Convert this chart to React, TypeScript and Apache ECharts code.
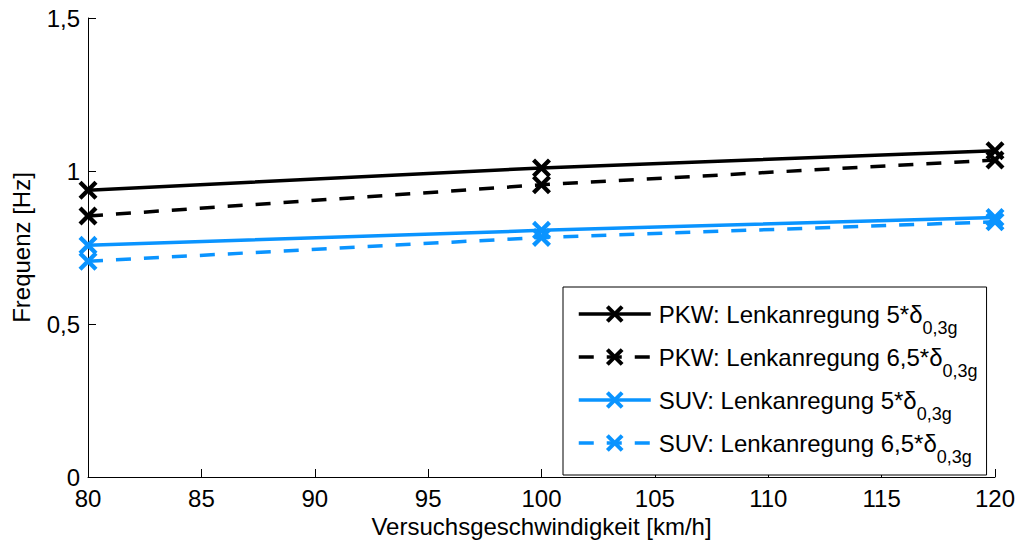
import React, { useEffect, useRef } from "react";
import * as echarts from "echarts";

// Test speeds [km/h]
const speeds = [80, 100, 120];

// Natural frequency [Hz] per vehicle and steering input amplitude
const pkw5 = [0.937, 1.01, 1.066];
const pkw65 = [0.853, 0.955, 1.036];
const suv5 = [0.757, 0.806, 0.848];
const suv65 = [0.705, 0.783, 0.834];

const seriesNames = [
  "PKW: Lenkanregung 5*δ",
  "PKW: Lenkanregung 6,5*δ",
  "SUV: Lenkanregung 5*δ",
  "SUV: Lenkanregung 6,5*δ",
];

const xTicks = { min: 80, max: 120, interval: 5 };
const yTicks = { min: 0, max: 1.5, interval: 0.5 };

const BLACK = "#000000";
const BLUE = "#0a94ff";

// filled "x" marker
const CROSS =
  "path://M0,1.6 L1.6,0 L5,3.4 L8.4,0 L10,1.6 L6.6,5 L10,8.4 L8.4,10 L5,6.6 L1.6,10 L0,8.4 L3.4,5 Z";

const FONT = "'Liberation Sans', Arial, Helvetica, sans-serif";

export default function App() {
  const ref = useRef<HTMLDivElement>(null);

  useEffect(() => {
    if (!ref.current) return;
    const chart = echarts.init(ref.current, null, { renderer: "svg" });

    const mk = (name: string, values: number[], color: string, dashed: boolean) => ({
      name,
      type: "line",
      data: speeds.map((s, i) => [s, values[i]]),
      symbol: CROSS,
      symbolSize: 19,
      lineStyle: {
        color,
        width: 3.5,
        type: dashed ? [15, 13] : "solid",
      },
      itemStyle: { color, borderWidth: 0 },
      emphasis: { disabled: true },
    });

    chart.setOption({
      animation: false,
      textStyle: { fontFamily: FONT },
      grid: { left: 88, right: 27, top: 18, bottom: 68 },
      xAxis: {
        type: "value",
        min: xTicks.min,
        max: xTicks.max,
        interval: xTicks.interval,
        name: "Versuchsgeschwindigkeit [km/h]",
        nameLocation: "middle",
        nameGap: 33,
        nameTextStyle: { fontSize: 24, color: "#000", fontFamily: FONT },
        axisLine: { show: true, lineStyle: { color: "#000", width: 1 } },
        axisTick: { show: true, inside: true, length: 8, lineStyle: { color: "#000" } },
        axisLabel: { fontSize: 24, color: "#000", margin: 9, fontFamily: FONT },
        splitLine: { show: false },
      },
      yAxis: {
        type: "value",
        min: yTicks.min,
        max: yTicks.max,
        interval: yTicks.interval,
        name: "Frequenz [Hz]",
        nameLocation: "middle",
        nameGap: 55,
        nameTextStyle: { fontSize: 24, color: "#000", fontFamily: FONT },
        axisLine: { show: true, lineStyle: { color: "#000", width: 1 } },
        axisTick: { show: true, inside: true, length: 8, lineStyle: { color: "#000" } },
        axisLabel: {
          fontSize: 24,
          color: "#000",
          margin: 8,
          fontFamily: FONT,
          formatter: (v: number) => String(v).replace(".", ","),
        },
        splitLine: { show: false },
      },
      legend: {
        orient: "vertical",
        left: 563,
        top: 287,
        padding: [4, 9, 9, 14],
        itemWidth: 72,
        itemHeight: 22,
        itemGap: -3,
        borderColor: "#000",
        borderWidth: 1,
        backgroundColor: "#fff",
        selectedMode: false,
        lineStyle: { width: 3.5 },
        data: seriesNames,
        formatter: (name: string) => `{a|${name}}{s|0,3g}`,
        textStyle: {
          fontFamily: FONT,
          padding: [0, 0, 0, 3],
          rich: {
            a: { fontSize: 24, color: "#000", lineHeight: 26, verticalAlign: "middle", fontFamily: FONT },
            s: {
              fontSize: 18,
              color: "#000",
              lineHeight: 20,
              padding: [28, 0, 0, 0],
              verticalAlign: "middle",
              fontFamily: FONT,
            },
          },
        },
      },
      series: [
        mk(seriesNames[0], pkw5, BLACK, false),
        mk(seriesNames[1], pkw65, BLACK, true),
        mk(seriesNames[2], suv5, BLUE, false),
        mk(seriesNames[3], suv65, BLUE, true),
      ],
    });

    return () => chart.dispose();
  }, []);

  return (
    <div
      ref={ref}
      style={{ position: "fixed", left: 0, top: 0, width: 1022, height: 545, background: "#fff" }}
    />
  );
}
